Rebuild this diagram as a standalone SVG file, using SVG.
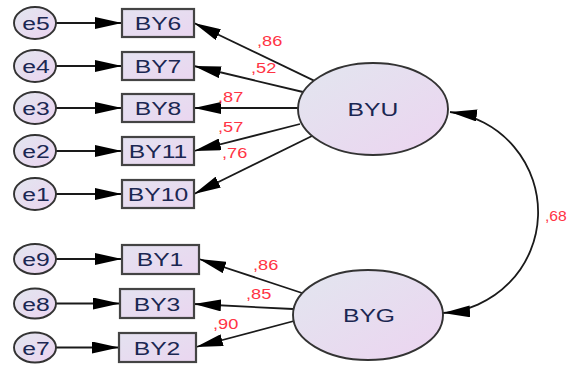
<svg xmlns="http://www.w3.org/2000/svg" width="568" height="367" viewBox="0 0 568 367">
<style>
.lat{stroke:#333;stroke-width:1.9;fill:url(#g)}
.obs{stroke:#444;stroke-width:2.2;fill:url(#g2)}
.err{stroke:#333;stroke-width:1.9;fill:url(#g)}
.t{font-family:"Liberation Sans",Arial,sans-serif;font-size:19px;fill:#1b2752;text-anchor:middle}
.l{font-family:"Liberation Sans",Arial,sans-serif;font-size:14px;fill:#ff3344}
.c{stroke:#1a1a1a;stroke-width:1.8;fill:none;marker-end:url(#ah)}
</style>
<defs>
<linearGradient id="g" x1="0" y1="0" x2="1" y2="1">
<stop offset="0" stop-color="#e2e6ef"/>
<stop offset="1" stop-color="#ecd4f0"/>
</linearGradient>
<linearGradient id="g2" x1="0" y1="0" x2="1" y2="1">
<stop offset="0" stop-color="#e4e2f0"/>
<stop offset="1" stop-color="#ead6f0"/>
</linearGradient>
<marker id="ah" markerUnits="userSpaceOnUse" markerWidth="27" markerHeight="12" refX="27" refY="6" orient="auto-start-reverse">
<path d="M0,0 L27,6 L0,12 z" fill="#000"/>
</marker>
</defs>

<g id="connectors">
<line class="c" x1="56" y1="23" x2="122" y2="23"/>
<line class="c" x1="56" y1="66" x2="122" y2="66"/>
<line class="c" x1="56" y1="108" x2="122" y2="108"/>
<line class="c" x1="56" y1="151" x2="122" y2="151"/>
<line class="c" x1="56" y1="194" x2="122" y2="194"/>
<line class="c" x1="56" y1="259" x2="122" y2="259"/>
<line class="c" x1="56" y1="303.5" x2="120" y2="303.5"/>
<line class="c" x1="56" y1="347.5" x2="119" y2="347.5"/>
<line class="c" x1="314" y1="80.6" x2="194" y2="23"/>
<line class="c" x1="303" y1="92" x2="194" y2="66"/>
<line class="c" x1="298" y1="108" x2="194" y2="108"/>
<line class="c" x1="300" y1="124" x2="194" y2="151"/>
<line class="c" x1="312" y1="136" x2="194" y2="194"/>
<line class="c" x1="302" y1="293" x2="199" y2="259"/>
<line class="c" x1="293" y1="309" x2="194" y2="304"/>
<line class="c" x1="294" y1="321" x2="196" y2="347"/>
<path class="c" style="marker-start:url(#ah)" d="M450,112 A101,101 0 0 1 443,313"/>
</g>

<g id="labels">
<text class="l" transform="translate(257,46) scale(1.3,1)">,86</text>
<text class="l" transform="translate(251,73) scale(1.3,1)">,52</text>
<text class="l" transform="translate(218,102) scale(1.3,1)">,87</text>
<text class="l" transform="translate(218,132) scale(1.3,1)">,57</text>
<text class="l" transform="translate(222,158) scale(1.3,1)">,76</text>
<text class="l" transform="translate(253,270) scale(1.3,1)">,86</text>
<text class="l" transform="translate(246,299) scale(1.3,1)">,85</text>
<text class="l" transform="translate(213,329) scale(1.3,1)">,90</text>
<text class="l" transform="translate(545,221) scale(1.12,1)">,68</text>
</g>

<g id="BYU"><ellipse class="lat" cx="373" cy="109" rx="75" ry="46"/><text class="t" transform="translate(373,116) scale(1.3,1)">BYU</text></g>
<g id="BYG"><ellipse class="lat" cx="368" cy="315" rx="75" ry="45"/><text class="t" transform="translate(369,322) scale(1.3,1)">BYG</text></g>

<g id="BY6"><rect class="obs" x="122" y="9" width="72" height="28"/><text class="t" transform="translate(158,30) scale(1.3,1)">BY6</text></g>
<g id="BY7"><rect class="obs" x="122" y="52" width="72" height="28"/><text class="t" transform="translate(158,73) scale(1.3,1)">BY7</text></g>
<g id="BY8"><rect class="obs" x="122" y="94" width="72" height="28"/><text class="t" transform="translate(158,115) scale(1.3,1)">BY8</text></g>
<g id="BY11"><rect class="obs" x="122" y="137" width="72" height="28"/><text class="t" transform="translate(158,158) scale(1.3,1)">BY11</text></g>
<g id="BY10"><rect class="obs" x="122" y="180" width="72" height="28"/><text class="t" transform="translate(158,201) scale(1.3,1)">BY10</text></g>
<g id="BY1"><rect class="obs" x="122" y="245" width="77" height="29"/><text class="t" transform="translate(160,266) scale(1.3,1)">BY1</text></g>
<g id="BY3"><rect class="obs" x="120" y="289" width="74" height="29"/><text class="t" transform="translate(157,310.5) scale(1.3,1)">BY3</text></g>
<g id="BY2"><rect class="obs" x="119" y="333" width="77" height="29"/><text class="t" transform="translate(157,354.5) scale(1.3,1)">BY2</text></g>

<g id="e5"><ellipse class="err" cx="35" cy="23" rx="21" ry="16"/><text class="t" transform="translate(36,30) scale(1.3,1)">e5</text></g>
<g id="e4"><ellipse class="err" cx="35" cy="66" rx="21" ry="16"/><text class="t" transform="translate(36,73) scale(1.3,1)">e4</text></g>
<g id="e3"><ellipse class="err" cx="35" cy="108" rx="21" ry="16"/><text class="t" transform="translate(36,115) scale(1.3,1)">e3</text></g>
<g id="e2"><ellipse class="err" cx="35" cy="151" rx="21" ry="16"/><text class="t" transform="translate(36,158) scale(1.3,1)">e2</text></g>
<g id="e1"><ellipse class="err" cx="35" cy="194" rx="21" ry="16"/><text class="t" transform="translate(36,201) scale(1.3,1)">e1</text></g>
<g id="e9"><ellipse class="err" cx="35" cy="259" rx="21" ry="15"/><text class="t" transform="translate(36,266) scale(1.3,1)">e9</text></g>
<g id="e8"><ellipse class="err" cx="35" cy="303.5" rx="21" ry="15"/><text class="t" transform="translate(36,310.5) scale(1.3,1)">e8</text></g>
<g id="e7"><ellipse class="err" cx="35" cy="347.5" rx="21" ry="15"/><text class="t" transform="translate(36,354.5) scale(1.3,1)">e7</text></g>
</svg>
